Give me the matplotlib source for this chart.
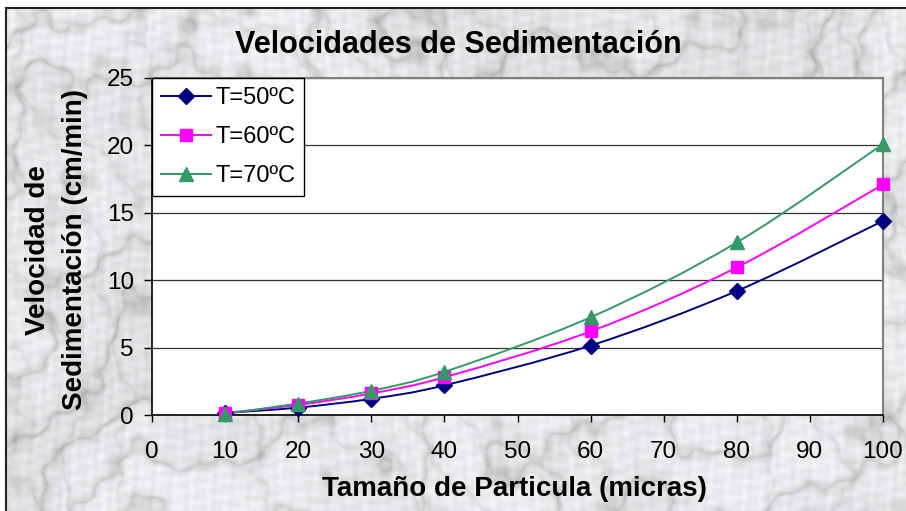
import numpy as np
import matplotlib.pyplot as plt
from matplotlib.path import Path
from matplotlib.patches import PathPatch
from matplotlib.lines import Line2D

plt.rcParams['font.family'] = ['Liberation Sans', 'DejaVu Sans']

#%% Dados

tamanho = [10, 20, 30, 40, 60, 80, 100]
v50 = [0.15, 0.55, 1.2, 2.2, 5.15, 9.2, 14.4]
v60 = [0.15, 0.75, 1.6, 2.8, 6.2, 10.95, 17.1]
v70 = [0.1, 0.85, 1.8, 3.2, 7.25, 12.8, 20.1]

series = [
    ('T=50ºC', v50, '#000080', 'D', 8),
    ('T=60ºC', v60, '#FF00FF', 's', 8),
    ('T=70ºC', v70, '#339966', '^', 9.5),
]

xlim = (0, 100)
ylim = (0, 25)

#%% Figura e fundo marmorizado

fig = plt.figure(figsize=(9.06, 5.11), dpi=100)
fig.patch.set_facecolor('white')

bg = fig.add_axes([6 / 906, 0, 900 / 906, 503 / 511])
H, W = 503, 900
yy, xx = np.mgrid[0:H, 0:W] / 300.0
turb = (0.9 * np.sin(3.1 * xx + 1.7 * yy + 0.4) * np.sin(2.3 * yy - 1.1 * xx + 1.3)
        + 0.5 * np.sin(7.3 * xx - 4.1 * yy + 2.2) * np.sin(5.9 * yy + 3.7 * xx)
        + 0.25 * np.sin(17.0 * xx + 11.0 * yy + 0.7) * np.sin(13.0 * yy - 9.0 * xx + 2.9)
        + 0.12 * np.sin(41.0 * xx - 29.0 * yy) * np.sin(37.0 * yy + 23.0 * xx + 1.1))
grao = (np.sin(83.0 * xx + 61.0 * yy + 4.0 * turb) * np.sin(71.0 * yy - 47.0 * xx + 1.7)
        + 0.6 * np.sin(131.0 * xx - 97.0 * yy + 2.0 * turb) * np.sin(113.0 * yy + 89.0 * xx))
veias = np.abs(np.sin(6.0 * xx + 9.0 * yy + 3.0 * turb))
veias2 = np.abs(np.sin(11.0 * xx - 5.0 * yy + 2.5 * turb + 1.0))
manchas = 0.5 + 0.5 * np.sin(2.0 * xx + 3.0 * yy + 2.0 * turb)
g = (0.89 + 0.05 * manchas - 0.13 * (1 - veias) ** 3 - 0.07 * (1 - veias2) ** 4
     - 0.025 * grao)
g = np.clip(g, 0.6, 0.97)
img = np.dstack([g * 0.985, g * 0.99, g * 1.0])
img = np.clip(img, 0, 1)
bg.imshow(img, aspect='auto', interpolation='bilinear')
bg.set_xticks([])
bg.set_yticks([])
for nome, sp in bg.spines.items():
    sp.set_visible(nome in ('top', 'left'))
    sp.set_color('#222222')
    sp.set_linewidth(1.5)

#%% Grafico

ax = fig.add_axes([152 / 906, 96 / 511, 731 / 906, 337 / 511])
ax.set_facecolor('white')
ax.set_xlim(*xlim)
ax.set_ylim(*ylim)
ax.set_xticks(np.arange(0, 101, 10))
ax.set_yticks(np.arange(0, 26, 5))
ax.grid(axis='y', color='#333333', linewidth=0.9)
ax.set_axisbelow(True)
ax.tick_params(axis='x', direction='out', length=5, width=1, pad=14, labelsize=17.5)
ax.tick_params(axis='y', direction='out', length=6, width=1, pad=7, labelsize=17.5)
ax.spines['left'].set_color('black')
ax.spines['bottom'].set_color('black')
ax.spines['left'].set_linewidth(1.2)
ax.spines['bottom'].set_linewidth(1.2)
ax.spines['top'].set_color('#808080')
ax.spines['right'].set_color('#808080')
ax.spines['top'].set_linewidth(1.5)
ax.spines['right'].set_linewidth(1.5)


def curva_suave(x, y):
    # segmentos de Bezier tipo Catmull-Rom, calculados em coordenadas normalizadas
    px = (np.asarray(x, float) - xlim[0]) / (xlim[1] - xlim[0]) * 731
    py = (np.asarray(y, float) - ylim[0]) / (ylim[1] - ylim[0]) * 337
    P = np.column_stack([px, py])
    n = len(P)
    verts = [P[0]]
    codes = [Path.MOVETO]
    for i in range(n - 1):
        p0 = P[i - 1] if i > 0 else P[i]
        p3 = P[i + 2] if i + 2 < n else P[i + 1]
        c1 = P[i] + (P[i + 1] - p0) / 6
        c2 = P[i + 1] - (p3 - P[i]) / 6
        verts += [c1, c2, P[i + 1]]
        codes += [Path.CURVE4] * 3
    V = np.array(verts)
    V[:, 0] = V[:, 0] / 731 * (xlim[1] - xlim[0]) + xlim[0]
    V[:, 1] = V[:, 1] / 337 * (ylim[1] - ylim[0]) + ylim[0]
    return Path(V, codes)


handles = []
for rotulo, vals, cor, mk, ms in series:
    ax.add_patch(PathPatch(curva_suave(tamanho, vals), facecolor='none',
                           edgecolor=cor, linewidth=1.4, zorder=3))
    ax.plot(tamanho, vals, linestyle='none', marker=mk, markersize=ms,
            color=cor, zorder=4, clip_on=False)
    handles.append(Line2D([], [], color=cor, linewidth=1.4, marker=mk,
                          markersize=ms, label=rotulo))

leg = ax.legend(handles=handles, loc='upper left', bbox_to_anchor=(0, 1),
                fontsize=17, frameon=True, fancybox=False, framealpha=1,
                edgecolor='black', borderaxespad=0, handlelength=2.1,
                handletextpad=0.2, labelspacing=0.72, borderpad=0.38)
leg.get_frame().set_linewidth(1.0)

fig.text(458 / 906, 1 - 45 / 511, 'Velocidades de Sedimentación', ha='center',
         va='center', fontsize=22, fontweight='bold')
fig.text(514 / 906, 1 - 489 / 511, 'Tamaño de Particula (micras)', ha='center',
         va='center', fontsize=20, fontweight='bold')
fig.text(57 / 906, 1 - 250 / 511, 'Velocidad de\nSedimentación (cm/min)',
         rotation=90, ha='center', va='center', fontsize=20,
         fontweight='bold', linespacing=1.55, multialignment='center')

fig.savefig('out.png', dpi=100)
